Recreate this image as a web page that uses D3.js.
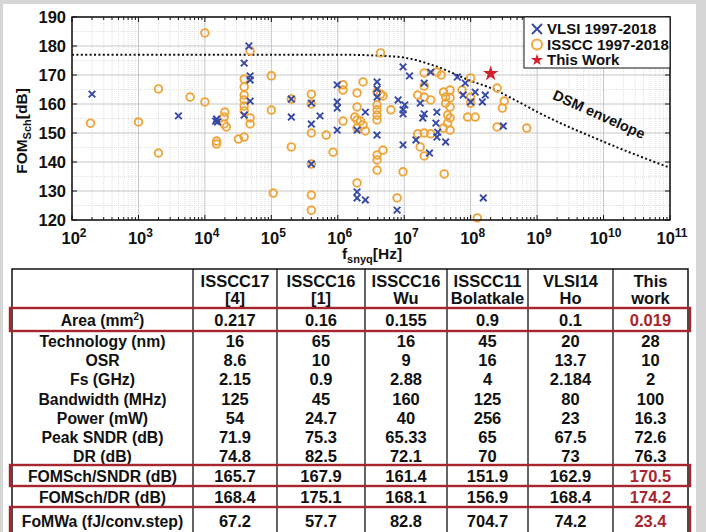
<!DOCTYPE html>
<html><head><meta charset="utf-8">
<script src="https://d3js.org/d3.v7.min.js"></script>
<style>
  body { margin: 0; background: #fff; }
  svg text { font-family: "Liberation Sans", Arial, sans-serif; font-weight: bold; fill: #111; }
  .grid-major { stroke: #c6c6c6; stroke-width: 1; }
  .grid-minor { stroke: #e0e0e0; stroke-width: 1; stroke-dasharray: 1,1; }
  .vlsi { stroke: #3548a6; stroke-width: 1.9; fill: none; }
  .isscc { stroke: #eea53a; stroke-width: 1.9; fill: none; }
  .envelope { stroke: #111; stroke-width: 2; fill: none; stroke-dasharray: 2,2.4; }
  .redbox { stroke: #a8252d; stroke-width: 2.4; fill: none; }
</style>
</head>
<body>
<svg id="chart" width="706" height="532"></svg>
<script>
// ---- data ----
// [f_snyq (Hz), FOMSch (dB)]
const vlsi = [
  [2e2,163.4],[4e3,155.9],[1.5e4,154.8],[1.55e4,153.8],[1.45e4,154.1],
  [3.9e4,174.1],[4.6e4,180],[4.8e4,169.7],[4.8e4,168.3],[4.8e4,161],[3.9e4,156.2],
  [2e5,161.7],[2e5,155.5],[4e5,153.1],[5.4e5,155.9],[4e5,160.3],[4e5,139.3],
  [9.8e5,166.6],[9.8e5,160.7],[9.8e5,158.6],[9.8e5,151],
  [1.95e6,129.7],[1.95e6,127.6],[2.6e6,126.9],[7.8e6,123.4],
  [9.6e6,145.9],[1.5e7,147.6],[3.1e7,148.6],[4.2e7,146.9],[2.4e7,143.1],[1.55e8,127.6],
  [3.9e6,149.3],[9.6e6,172.8],[1.2e7,169.7],[2.5e7,171],
  [3.9e6,167.6],[3.9e6,165.2],[3.9e6,162.4],[2.6e6,157.2],[1.95e6,151],
  [8.1e6,161.4],[1.02e7,159.7],[9.6e6,158],[9.6e6,156.6],
  [1.74e7,160.3],[2e7,156.6],[1.9e7,155.2],[3.1e7,157.2],[3e7,153.4],[3.2e7,150.3],
  [6.3e7,169.3],[8.3e7,167.2],[7.7e7,163.1],[1.17e8,164.1],[1.5e8,160.7],[1.66e8,163.1],
  [1e8,160.7],[3.1e8,152.4],[2e7,167.2]
];
const isscc = [
  [1.9e2,153.4],[1e3,153.8],[2e3,165.2],[2e3,143.1],[6e3,162.4],[1e4,184.5],[1e4,160.7],
  [2e4,157.2],[1.95e4,155.5],[1.95e4,153.1],[2.1e4,152.1],[1.5e4,147.2],[1.5e4,146.2],
  [3.2e4,147.9],[3.9e4,148.6],[3.9e4,168.6],[3.9e4,165.9],[3.9e4,163.1],[3.9e4,161.4],
  [3.9e4,159.3],[3.9e4,157.6],[4.8e4,178.3],[4.8e4,155.2],[4.8e4,153.1],
  [1e5,169.7],[1e5,157.9],[1.07e5,129.3],[2e5,161.7],[2e5,145.2],
  [4e5,163.4],[4e5,160],[4e5,150],[4e5,139.3],[4e5,128.6],[4e5,123.4],
  [6.7e5,149.3],[8.5e5,143.4],[1.2e6,166.6],[1.2e6,164.8],[1.2e6,154.1],
  [1.95e6,163.8],[1.95e6,159],[1.95e6,154.5],[1.95e6,132.8],[4.4e6,177.6],[2.4e6,167.6],
  [1.8e6,155.5],[2.2e6,154.1],[2.4e6,152.8],[1.95e6,151.7],[2.6e6,150.7],
  [3.9e6,164.1],[4.4e6,163.4],[4.8e6,162.8],[3.9e6,159.7],[3.9e6,158],[3.9e6,156.2],
  [3.9e6,154.5],[6.3e6,158],[3.9e6,142.4],[3.9e6,140.7],[4.8e6,144.1],[3.9e6,137.2],
  [9.6e6,136.6],[7.8e6,127.6],[1.74e7,145.2],[2e7,142.1],[4e7,135.9],[1.26e8,120.7],
  [1.6e7,149.7],[2e7,150],[2.5e7,149.7],[4.9e7,151],
  [2e7,170.7],[2e7,166.2],[3.1e7,171],[3.6e7,170],[1.6e7,163.1],[2e7,162.4],[2.5e7,161.4],
  [3.9e7,164.1],[4.9e7,164.8],[4.2e7,162.4],[4.9e7,162.1],[4.2e7,160.3],[4.9e7,159],
  [4.5e7,156.2],[4.9e7,155.2],[4.5e7,153.4],[3.9e7,151.7],
  [7.4e7,164.8],[1e8,169],[1e8,162.4],[1e8,160.3],[9e7,155.5],[1.17e8,155.5],
  [2.5e8,165.5],[3.2e8,161],[3e8,158.6],[2.5e8,152.1],[7e8,151.7]
];
const thisWork = [2e8, 170.5];
const envFreq = [1e2, 1e6, 3e6, 1e7, 3e7, 1e8, 2e8, 5e8, 1e9, 1e10, 1e11];
const envFom  = [177, 177, 176.8, 176, 173, 168, 165.5, 161, 157.3, 147, 138];
const yTicks = [120, 130, 140, 150, 160, 170, 180, 190];
const xTickExps = [2, 3, 4, 5, 6, 7, 8, 9, 10, 11];
const legendLabels = ["VLSI 1997-2018", "ISSCC 1997-2018", "This Work"];

// table
const colHeads = [["", ""], ["ISSCC17", "[4]"], ["ISSCC16", "[1]"], ["ISSCC16", "Wu"],
                  ["ISSCC11", "Bolatkale"], ["VLSI14", "Ho"], ["This", "work"]];
const rowLabels = ["Area (mm2)", "Technology (nm)", "OSR", "Fs (GHz)", "Bandwidth (MHz)",
                   "Power (mW)", "Peak SNDR (dB)", "DR (dB)", "FOMSch/SNDR (dB)",
                   "FOMSch/DR (dB)", "FoMWa (fJ/conv.step)"];
const tableVals = [
  ["0.217", "0.16", "0.155", "0.9", "0.1", "0.019"],
  ["16", "65", "16", "45", "20", "28"],
  ["8.6", "10", "9", "16", "13.7", "10"],
  ["2.15", "0.9", "2.88", "4", "2.184", "2"],
  ["125", "45", "160", "125", "80", "100"],
  ["54", "24.7", "40", "256", "23", "16.3"],
  ["71.9", "75.3", "65.33", "65", "67.5", "72.6"],
  ["74.8", "82.5", "72.1", "70", "73", "76.3"],
  ["165.7", "167.9", "161.4", "151.9", "162.9", "170.5"],
  ["168.4", "175.1", "168.1", "156.9", "168.4", "174.2"],
  ["67.2", "57.7", "82.8", "704.7", "74.2", "23.4"]
];
const boxedRows = [0, 8, 10];
const redValueRows = [0, 8, 9, 10];

// ---- layout ----
const svg = d3.select("#chart");
svg.append("rect").attr("width", 706).attr("height", 532).attr("fill", "#d6d6d6");
svg.append("rect").attr("x", 3).attr("y", 4).attr("width", 693).attr("height", 528).attr("fill", "#fff");

const plot = { left: 72, right: 670, top: 17, bottom: 220 };
const x = d3.scaleLog().domain([1e2, 1e11]).range([plot.left, plot.right]);
const y = d3.scaleLinear().domain([120, 190]).range([plot.bottom, plot.top]);

const majorX = xTickExps.map(e => Math.pow(10, e));
const minorX = [];
xTickExps.slice(0, -1).forEach(e => { for (let k = 2; k <= 9; k++) minorX.push(k * Math.pow(10, e)); });
const minorY = d3.range(125, 190, 10);

// grid
const grid = svg.append("g");
grid.selectAll(".mx").data(minorX).join("line").attr("class", "grid-minor")
  .attr("x1", d => x(d)).attr("x2", d => x(d)).attr("y1", plot.top).attr("y2", plot.bottom);
grid.selectAll(".my").data(minorY).join("line").attr("class", "grid-minor")
  .attr("x1", plot.left).attr("x2", plot.right).attr("y1", d => y(d)).attr("y2", d => y(d));
grid.selectAll(".gx").data(majorX).join("line").attr("class", "grid-major")
  .attr("x1", d => x(d)).attr("x2", d => x(d)).attr("y1", plot.top).attr("y2", plot.bottom);
grid.selectAll(".gy").data(yTicks).join("line").attr("class", "grid-major")
  .attr("x1", plot.left).attr("x2", plot.right).attr("y1", d => y(d)).attr("y2", d => y(d));

// inward ticks
const tickG = svg.append("g").attr("stroke", "#111").attr("stroke-width", 1);
[[minorX, 3], [majorX, 5]].forEach(([vals, len]) => {
  tickG.selectAll(null).data(vals).join("line")
    .attr("x1", d => x(d)).attr("x2", d => x(d)).attr("y1", plot.bottom).attr("y2", plot.bottom - len);
  tickG.selectAll(null).data(vals).join("line")
    .attr("x1", d => x(d)).attr("x2", d => x(d)).attr("y1", plot.top).attr("y2", plot.top + len);
});
tickG.selectAll(null).data(yTicks).join("line")
  .attr("x1", plot.left).attr("x2", plot.left + 5).attr("y1", d => y(d)).attr("y2", d => y(d));
tickG.selectAll(null).data(yTicks).join("line")
  .attr("x1", plot.right).attr("x2", plot.right - 5).attr("y1", d => y(d)).attr("y2", d => y(d));

// tick labels
svg.selectAll(".ytl").data(yTicks).join("text")
  .attr("x", plot.left - 6).attr("y", d => y(d) + 6)
  .attr("text-anchor", "end").attr("font-size", 16.5).text(d => d);
const xtl = svg.selectAll(".xtl").data(xTickExps).join("text")
  .attr("x", d => x(Math.pow(10, d)) + 2).attr("y", 244)
  .attr("text-anchor", "middle").attr("font-size", 16.5);
xtl.append("tspan").text("10");
xtl.append("tspan").attr("dy", -7).attr("font-size", 12).text(d => d);

// axis labels
const yl = svg.append("text").attr("transform", "translate(27,131) rotate(-90)")
  .attr("text-anchor", "middle").attr("font-size", 15.5);
yl.append("tspan").text("FOM");
yl.append("tspan").attr("dy", 4).attr("font-size", 11).text("Sch");
yl.append("tspan").attr("dy", -4).text("[dB]");
const xl = svg.append("text").attr("x", 372).attr("y", 259)
  .attr("text-anchor", "middle").attr("font-size", 15.5);
xl.append("tspan").text("f");
xl.append("tspan").attr("dy", 4).attr("font-size", 11).text("snyq");
xl.append("tspan").attr("dy", -4).text("[Hz]");

// envelope
const env = envFreq.map((f, i) => [f, envFom[i]]);
svg.append("path").datum(env).attr("class", "envelope")
  .attr("d", d3.line().x(d => x(d[0])).y(d => y(d[1])).curve(d3.curveMonotoneX));
svg.append("text").attr("transform", "translate(597,119) rotate(24)")
  .attr("text-anchor", "middle").attr("font-size", 14.5).text("DSM envelope");

// points
const cross = s => `M${-s},${-s}L${s},${s}M${-s},${s}L${s},${-s}`;
svg.append("g").selectAll("circle").data(isscc).join("circle").attr("class", "isscc")
  .attr("cx", d => x(d[0])).attr("cy", d => y(d[1])).attr("r", 3.8);
svg.append("g").selectAll("path").data(vlsi).join("path").attr("class", "vlsi")
  .attr("transform", d => `translate(${x(d[0])},${y(d[1])})`).attr("d", cross(3.3));
svg.append("path").attr("d", d3.symbol(d3.symbolStar, 75)())
  .attr("transform", `translate(${x(thisWork[0])},${y(thisWork[1])})`).attr("fill", "#d3202c");

// frame
svg.append("rect").attr("x", plot.left).attr("y", plot.top)
  .attr("width", plot.right - plot.left).attr("height", plot.bottom - plot.top)
  .attr("fill", "none").attr("stroke", "#111").attr("stroke-width", 1.5);

// legend
const lg = svg.append("g");
lg.append("rect").attr("x", 524).attr("y", plot.top).attr("width", plot.right - 524).attr("height", 51)
  .attr("fill", "#fff").attr("stroke", "#111").attr("stroke-width", 1);
legendLabels.forEach((t, i) => {
  const cy = 29 + i * 15.5;
  lg.append("text").attr("x", 547).attr("y", cy + 5).attr("font-size", 15).text(t);
  if (i === 0) lg.append("path").attr("class", "vlsi").attr("stroke-width", 1.6)
    .attr("transform", `translate(537,${cy})`).attr("d", cross(5));
  if (i === 1) lg.append("circle").attr("class", "isscc").attr("cx", 537).attr("cy", cy).attr("r", 5);
  if (i === 2) lg.append("path").attr("d", d3.symbol(d3.symbolStar, 45)())
    .attr("transform", `translate(537,${cy})`).attr("fill", "#d3202c");
});

// ---- table ----
const colEdges = [12, 193, 277, 365, 447, 528, 613, 688];
const rowEdges = [308, 331, 350, 369, 389, 408, 427, 446, 465, 486, 507, 540];
const tbl = svg.append("g");
const colMid = i => (colEdges[i] + colEdges[i + 1]) / 2;

tbl.append("rect").attr("x", colEdges[0]).attr("y", 269)
  .attr("width", colEdges[7] - colEdges[0]).attr("height", 290)
  .attr("fill", "#fff").attr("stroke", "#111").attr("stroke-width", 1.5);
tbl.selectAll(".vl").data(colEdges.slice(1, -1)).join("line")
  .attr("x1", d => d).attr("x2", d => d).attr("y1", 269).attr("y2", 540)
  .attr("stroke", "#111").attr("stroke-width", 1.3);
[308, 486].forEach(yy => tbl.append("line").attr("x1", colEdges[0]).attr("x2", colEdges[7])
  .attr("y1", yy).attr("y2", yy).attr("stroke", "#111").attr("stroke-width", 1.3));

colHeads.forEach((h, i) => {
  h.forEach((t, j) => tbl.append("text").attr("x", colMid(i)).attr("y", 287 + j * 17)
    .attr("text-anchor", "middle").attr("font-size", 16.5).text(t));
});

rowLabels.forEach((lab, r) => {
  const cy = (rowEdges[r] + rowEdges[r + 1]) / 2 + (r === 10 ? -3 : 0);
  const t = tbl.append("text").attr("x", colMid(0)).attr("y", cy + 6)
    .attr("text-anchor", "middle").attr("font-size", 15.8);
  if (r === 0) {
    t.append("tspan").text("Area (mm");
    t.append("tspan").attr("dy", -6).attr("font-size", 10).text("2");
    t.append("tspan").attr("dy", 6).text(")");
  } else t.text(lab);
  tableVals[r].forEach((v, c) => {
    tbl.append("text").attr("x", colMid(c + 1)).attr("y", cy + 6)
      .attr("text-anchor", "middle").attr("font-size", 16.5)
      .style("fill", c === 5 && redValueRows.includes(r) ? "#a8252d" : "#111").text(v);
  });
});

boxedRows.forEach(r => {
  tbl.append("rect").attr("class", "redbox").attr("x", 10).attr("y", rowEdges[r])
    .attr("width", 680).attr("height", rowEdges[r + 1] - rowEdges[r]);
});
</script>
</body></html>
